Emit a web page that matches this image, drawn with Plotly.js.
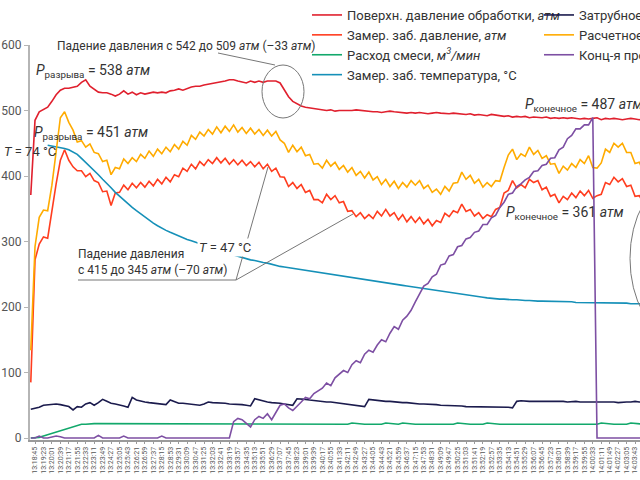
<!DOCTYPE html>
<html>
<head>
<meta charset="utf-8">
<script src="https://cdn.plot.ly/plotly-3.0.1.min.js"></script>
<style>
  html, body { margin: 0; padding: 0; overflow: hidden; background: #fff; }
  #wrap { width: 640px; height: 480px; overflow: hidden; position: relative; }
  #chart { width: 700px; height: 480px; }
</style>
</head>
<body>
<div id="wrap"><div id="chart"></div></div>
<script>
'use strict';

// Log sampling: one reading every 19 s, first one 19 s before 13:18:45
var START_TIME = '2020-01-01 13:18:45';
var SAMPLE_STEP_S = 19;
var FIRST_SAMPLE_S = -19;

var SERIES_NAMES = [
  'Поверхн. давление обработки, <i>атм</i>',
  'Замер. заб. давление, <i>атм</i>',
  'Расход смеси, <i>м<sup>3</sup>/мин</i>',
  'Замер. заб. температура, °C',
  'Затрубное давление, <i>атм</i>',
  'Расчетное забойное давление, <i>атм</i>',
  'Конц-я проппанта, <i>кг/м<sup>3</sup></i>'
];

var SURFACE_PRESSURE = [
  371, 485, 498, 501, 505, 514, 524, 531, 534, 534,
  536, 537, 543, 547, 537, 533, 528, 527, 527, 525,
  522, 525, 530, 525, 528, 524, 527, 525, 527, 528,
  527, 528, 527, 530, 531, 533, 531, 534, 536, 537,
  537, 539, 540, 542, 543, 543, 545, 547, 547, 545,
  543, 542, 545, 543, 545, 543, 545, 545, 545, 542,
  531, 521, 514, 510, 507, 505, 504, 502, 501, 501,
  500, 501, 499, 500, 500, 499, 500, 501, 500, 499,
  499, 498, 498, 497, 498, 499, 498, 497, 497, 496,
  497, 496, 497, 496, 495, 496, 497, 496, 495, 495,
  496, 495, 494, 494, 495, 493, 494, 493, 492, 494,
  493, 492, 491, 492, 490, 491, 490, 491, 489, 490,
  489, 489, 490, 488, 489, 488, 489, 488, 489, 488,
  487, 488, 487, 488, 489, 486, 488, 487, 488, 487,
  486, 487, 488, 487, 486, 487
];

var MEASURED_BHP = [
  85, 272, 296, 307, 305, 348, 388, 424, 440, 424,
  414, 408, 408, 399, 404, 393, 390, 376, 377, 355,
  374, 375, 386, 379, 389, 382, 390, 383, 392, 385,
  395, 388, 398, 391, 402, 399, 412, 407, 418, 411,
  422, 416, 425, 419, 428, 420, 427, 418, 425, 417,
  424, 416, 422, 414, 421, 411, 418, 407, 412, 399,
  398, 384, 390, 381, 387, 375, 378, 364, 364, 359,
  372, 364, 370, 359, 361, 346, 347, 338, 344, 335,
  341, 335, 346, 339, 349, 339, 344, 333, 341, 330,
  338, 329, 337, 327, 334, 324, 332, 329, 343, 338,
  347, 344, 357, 346, 349, 339, 344, 335, 341, 338,
  349, 352, 374, 378, 393, 382, 387, 382, 395, 390,
  393, 379, 383, 369, 372, 359, 369, 364, 374, 367,
  377, 370, 378, 366, 370, 372, 390, 387, 398, 391,
  396, 384, 386, 369, 370, 359
];

var SLURRY_RATE = [
  0, 0, 1, 3, 5, 7, 9, 11, 13, 16,
  18, 20, 21, 21, 22, 22, 22, 22, 22, 22,
  22, 22, 22, 22, 21, 21, 22, 21, 21, 21,
  21, 21, 22, 21, 21, 21, 21, 22, 21, 21,
  21, 21, 21, 22, 21, 21, 21, 21, 21, 21,
  21, 21, 21, 21, 21, 21, 21, 21, 21, 21,
  21, 21, 21, 21, 21, 21, 21, 21, 21, 21,
  21, 21, 21, 21, 21, 21, 23, 22, 21, 21,
  21, 21, 21, 21, 23, 22, 21, 21, 23, 22,
  21, 21, 21, 21, 21, 21, 21, 21, 21, 21,
  21, 23, 22, 21, 21, 21, 21, 21, 23, 22,
  21, 21, 21, 21, 21, 21, 21, 21, 21, 21,
  21, 21, 21, 21, 21, 21, 21, 21, 21, 21,
  21, 21, 21, 21, 21, 23, 22, 21, 21, 21,
  21, 21, 23, 22, 21, 21
];

var BH_TEMPERATURE = [
  null, null, null, null, 447, 446, 445, 443, 442, 440,
  437, 433, 427, 421, 415, 409, 402, 395, 389, 382,
  375, 369, 363, 357, 352, 347, 342, 337, 332, 328,
  324, 320, 317, 314, 311, 308, 306, 303, 301, 299,
  297, 294, 292, 290, 288, 285, 283, 281, 279, 277,
  276, 274, 272, 271, 269, 268, 267, 265, 264, 262,
  261, 260, 259, 257, 256, 255, 254, 253, 253, 252,
  251, 250, 249, 248, 247, 246, 245, 244, 243, 242,
  241, 240, 239, 238, 237, 236, 235, 234, 233, 232,
  231, 230, 229, 228, 227, 226, 225, 224, 223, 222,
  221, 220, 219, 218, 217, 216, 215, 215, 214, 213,
  213, 212, 212, 211, 211, 211, 210, 210, 210, 209,
  209, 209, 209, 208, 208, 208, 208, 208, 208, 207,
  207, 207, 207, 207, 207, 206, 206, 206, 206, 206,
  206, 206, 205, 205, 205, 205
];

var ANNULUS_PRESSURE = [
  44, 45, 47, 50, 51, 52, 52, 51, 50, 48,
  43, 48, 47, 52, 54, 50, 54, 59, 56, 53,
  52, 51, 49, 47, 62, 58, 56, 55, 54, 53,
  52, 51, 51, 58, 55, 53, 53, 52, 51, 50,
  50, 52, 55, 54, 54, 53, 53, 52, 52, 51,
  51, 50, 49, 60, 58, 56, 55, 54, 54, 53,
  52, 51, 50, 60, 60, 59, 58, 57, 56, 55,
  55, 55, 54, 54, 53, 52, 51, 50, 49, 48,
  59, 58, 57, 57, 56, 56, 55, 55, 54, 54,
  53, 53, 52, 52, 52, 51, 51, 50, 50, 50,
  49, 49, 49, 48, 48, 48, 47, 47, 47, 47,
  47, 47, 47, 47, 46, 56, 57, 56, 56, 56,
  56, 56, 56, 57, 56, 56, 56, 55, 56, 56,
  55, 55, 56, 55, 55, 55, 56, 55, 55, 54,
  55, 55, 55, 56, 55, 55
];

var CALC_BHP = [
  134, 292, 337, 348, 347, 386, 437, 489, 498, 482,
  470, 452, 454, 444, 449, 436, 434, 422, 424, 402,
  413, 411, 426, 419, 428, 422, 433, 427, 438, 430,
  441, 434, 444, 437, 448, 441, 453, 447, 462, 456,
  467, 461, 471, 464, 475, 466, 476, 468, 478, 467,
  474, 465, 473, 464, 471, 462, 470, 461, 468, 455,
  450, 436, 447, 437, 444, 431, 433, 418, 419, 412,
  424, 415, 421, 410, 416, 406, 413, 401, 407, 397,
  406, 394, 399, 387, 395, 384, 392, 381, 390, 383,
  393, 386, 393, 381, 386, 375, 380, 372, 384, 377,
  389, 390, 406, 395, 401, 389, 395, 383, 390, 384,
  393, 392, 413, 432, 441, 425, 434, 430, 444, 433,
  439, 427, 431, 418, 419, 404, 415, 409, 419, 413,
  425, 419, 431, 413, 412, 420, 441, 436, 450, 444,
  450, 436, 436, 419, 421, 407
];

var PROPPANT_CONC = [
  0, 0, 3, 0, 0, 2, 3, 2, 0, 0,
  0, 0, 0, 0, 0, 0, 4, 0, 0, 0,
  0, 0, 3, 0, 0, 0, 0, 0, 0, 0,
  0, 3, 0, 0, 0, 0, 0, 0, 0, 0,
  0, 0, 0, 0, 0, 0, 0, 0, 25, 30,
  28, 22, 17, 28, 33, 30, 37, 28, 38, 50,
  52, 46, 42, 48, 55, 62, 60, 68, 72, 76,
  84, 80, 92, 97, 103, 100, 112, 118, 115, 128,
  134, 131, 142, 150, 147, 160, 170, 166, 180, 186,
  195, 208, 220, 232, 236, 246, 250, 264, 266, 278,
  280, 292, 294, 304, 306, 314, 316, 326, 326, 336,
  340, 352, 360, 372, 374, 384, 388, 394, 398, 407,
  408, 416, 418, 427, 428, 440, 444, 457, 462, 472,
  472, 478, 478, 489, 0, 0, 0, 0, 0, 0,
  0, 0, 0, 0, 0, 0
];

var SERIES_COLORS = ['#e0202e', '#ff3d1f', '#12a86b', '#1590b8', '#1b1b4d', '#ffab00', '#7d4fa3'];
var Y_TICKS = [0, 100, 200, 300, 400, 500, 600];

var FONT = 'Roboto, "DejaVu Sans", sans-serif';
var TEXT_COLOR = '#333';

// Figure is wider than the 640 px window, like the cropped original
var W = 700, H = 480, ML = 30, MR = 0, MT = 45, MB = 40;

function paperX(px) { return (px - ML) / (W - ML - MR); }
function paperY(py) { return (H - MB - py) / (H - MT - MB); }

var baseMs = Date.parse(START_TIME.replace(' ', 'T') + 'Z');

var sampleTimes = SURFACE_PRESSURE.map(function (_, i) {
  return baseMs + (FIRST_SAMPLE_S + i * SAMPLE_STEP_S) * 1000;
});

function lineTrace(name, values, color, legendId) {
  return {
    type: 'scatter',
    mode: 'lines',
    name: name,
    x: sampleTimes,
    y: values,
    line: { color: color, width: 1.6 },
    legend: legendId,
    connectgaps: false
  };
}

var traces = [
  lineTrace(SERIES_NAMES[0], SURFACE_PRESSURE, SERIES_COLORS[0], 'legend'),
  lineTrace(SERIES_NAMES[1], MEASURED_BHP, SERIES_COLORS[1], 'legend'),
  lineTrace(SERIES_NAMES[2], SLURRY_RATE, SERIES_COLORS[2], 'legend'),
  lineTrace(SERIES_NAMES[3], BH_TEMPERATURE, SERIES_COLORS[3], 'legend'),
  lineTrace(SERIES_NAMES[4], ANNULUS_PRESSURE, SERIES_COLORS[4], 'legend2'),
  lineTrace(SERIES_NAMES[5], CALC_BHP, SERIES_COLORS[5], 'legend2'),
  lineTrace(SERIES_NAMES[6], PROPPANT_CONC, SERIES_COLORS[6], 'legend2')
];

function note(text, px, py, size, extra) {
  var a = {
    xref: 'paper', yref: 'paper',
    x: paperX(px), y: paperY(py),
    xanchor: 'left', yanchor: 'middle',
    align: 'left',
    text: text,
    showarrow: false,
    font: { family: FONT, size: size, color: TEXT_COLOR }
  };
  return Object.assign(a, extra || {});
}

function pxLine(x0, y0, x1, y1) {
  return {
    type: 'line', xref: 'paper', yref: 'paper',
    x0: paperX(x0), y0: paperY(y0), x1: paperX(x1), y1: paperY(y1),
    line: { color: '#777', width: 1 }
  };
}

function pxEllipse(x0, y0, x1, y1) {
  return {
    type: 'circle', xref: 'paper', yref: 'paper',
    x0: paperX(x0), y0: paperY(y0), x1: paperX(x1), y1: paperY(y1),
    line: { color: '#777', width: 1 }
  };
}

var annotations = [
  note('Падение давления с 542 до 509 <i>атм</i> (–33 <i>атм</i>)', 55, 46, 12),
  note('<i>P</i><sub>разрыва</sub> = 538 <i>атм</i>', 34, 71, 14),
  note('<i>P</i><sub>разрыва</sub> = 451 <i>атм</i>', 32, 133, 14),
  note('<i>T</i> = 74 °C', 2, 151, 13),
  note('<i>T</i> = 47 °C', 197, 247, 13, { bgcolor: '#fff', borderpad: 1 }),
  note('Падение давления<br>с 415 до 345 <i>атм</i> (–70 <i>атм</i>)', 76, 262, 12),
  note('<i>P</i><sub>конечное</sub> = 487 <i>атм</i>', 523, 105, 14),
  note('<i>P</i><sub>конечное</sub> = 361 <i>атм</i>', 504, 213, 14)
];

var shapes = [
  pxLine(218, 53, 275, 65),
  pxEllipse(262, 65, 304, 118),
  pxLine(78, 280, 236, 280),
  pxLine(236, 280, 268, 167),
  pxLine(236, 280, 353, 214),
  pxEllipse(630, 182, 720, 335)
];

var legendBase = {
  bgcolor: 'rgba(0,0,0,0)',
  font: { family: FONT, size: 13, color: TEXT_COLOR },
  xanchor: 'left', yanchor: 'top',
  traceorder: 'normal',
  itemwidth: 30
};

var layout = {
  width: W,
  height: H,
  margin: { l: ML, r: MR, t: MT, b: MB, autoexpand: false },
  paper_bgcolor: '#fff',
  plot_bgcolor: '#fff',
  font: { family: FONT, color: TEXT_COLOR },
  showlegend: true,
  legend: Object.assign({}, legendBase, { x: paperX(307), y: paperY(0) }),
  legend2: Object.assign({}, legendBase, { x: paperX(539), y: paperY(0) }),
  xaxis: {
    type: 'date',
    range: [baseMs - 22500, baseMs + 2990000],
    tick0: START_TIME,
    dtick: 38000,
    tickformat: '%H:%M:%S',
    tickangle: -90,
    tickfont: { family: FONT, size: 7, color: '#555' },
    showline: true,
    linecolor: '#9a9a9a',
    linewidth: 2,
    ticks: 'outside',
    ticklen: 2,
    tickcolor: '#9a9a9a',
    showgrid: false,
    zeroline: false
  },
  yaxis: {
    range: [-3, 600],
    tickmode: 'array',
    tickvals: Y_TICKS,
    ticktext: Y_TICKS.map(String),
    tickfont: { family: FONT, size: 12, color: '#555' },
    showline: true,
    linecolor: '#b5b5b5',
    linewidth: 2,
    ticks: 'outside',
    ticklen: 4,
    tickcolor: '#b5b5b5',
    showgrid: false,
    zeroline: false
  },
  annotations: annotations,
  shapes: shapes
};

Plotly.newPlot('chart', traces, layout, { displayModeBar: false, staticPlot: true });
</script>
</body>
</html>
